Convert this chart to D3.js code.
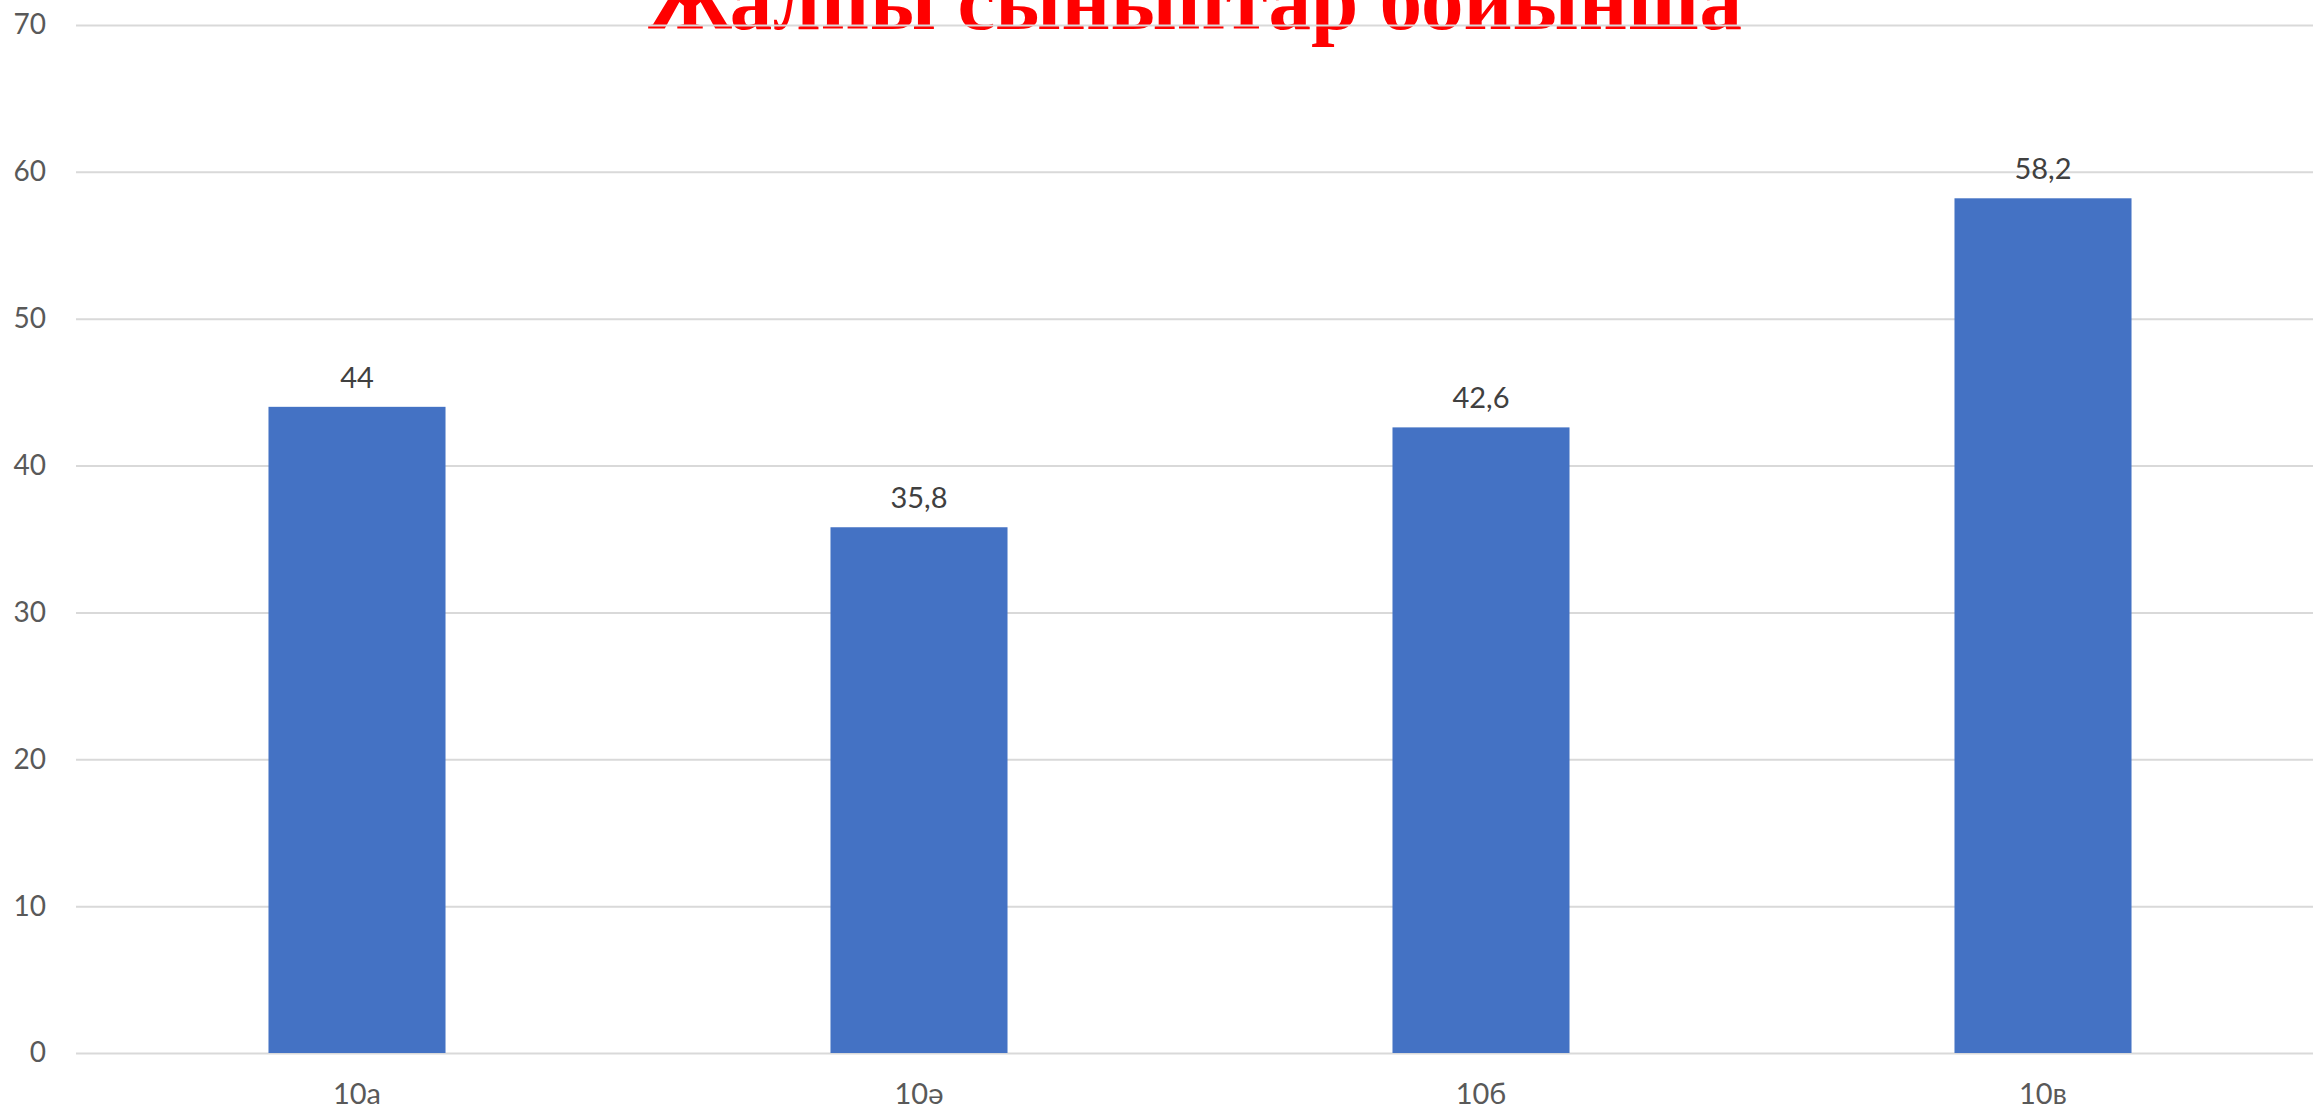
<!DOCTYPE html>
<html>
<head>
<meta charset="utf-8">
<script src="https://cdn.jsdelivr.net/npm/d3@7"></script>
<style>
  body { margin: 0; background: #fff; }
</style>
</head>
<body>
<script>
const categories = ["10а", "10ә", "10б", "10в"];
const values = [44, 35.8, 42.6, 58.2];
const yTicks = [0, 10, 20, 30, 40, 50, 60, 70];
const title = "Жалпы сыныптар бойынша";

const W = 2313, H = 1110;
const plot = { left: 76, right: 2324, top: 25, bottom: 1053 };

const svg = d3.select("body").append("svg")
    .attr("width", W)
    .attr("height", H);

const x = d3.scaleBand()
    .domain(categories)
    .range([plot.left, plot.right])
    .paddingInner(0.685)
    .paddingOuter(0.3425);

const y = d3.scaleLinear()
    .domain([0, 70])
    .range([plot.bottom, plot.top]);

// Title - runs off the top edge like the original, gridline drawn over it
svg.append("text")
    .attr("x", 1195)
    .attr("y", 29)
    .attr("text-anchor", "middle")
    .style("font-family", "'Liberation Serif', 'Times New Roman', serif")
    .style("font-weight", "bold")
    .style("font-size", "85px")
    .style("fill", "#ff0000")
    .text(title);

// Gridlines + y labels
const yAxis = svg.append("g")
    .attr("transform", "translate(" + plot.left + ",0)")
    .call(d3.axisLeft(y).tickValues(yTicks).tickSize(-(W - plot.left)).tickPadding(30));
yAxis.select(".domain").remove();
yAxis.selectAll(".tick line")
    .attr("stroke", "#d9d9d9")
    .attr("stroke-width", 2);
yAxis.selectAll(".tick text")
    .style("font-family", "Lato, 'Open Sans', sans-serif")
    .style("font-size", "28px")
    .style("fill", "#595959");

// Bars
svg.selectAll(".bar")
    .data(values)
  .enter().append("rect")
    .attr("class", "bar")
    .attr("x", (d, i) => x(categories[i]))
    .attr("y", d => y(d))
    .attr("width", x.bandwidth())
    .attr("height", d => y(0) - y(d))
    .attr("fill", "#4472c4");

// Value labels
svg.selectAll(".val")
    .data(values)
  .enter().append("text")
    .attr("class", "val")
    .attr("x", (d, i) => x(categories[i]) + x.bandwidth() / 2)
    .attr("y", d => y(d) - 19)
    .attr("text-anchor", "middle")
    .style("font-family", "Lato, 'Open Sans', sans-serif")
    .style("font-size", "29px")
    .style("fill", "#404040")
    .text(d => String(d).replace(".", ","));

// Category labels
const xAxis = svg.append("g")
    .attr("transform", "translate(0," + plot.bottom + ")")
    .call(d3.axisBottom(x).tickSize(0).tickPadding(30));
xAxis.select(".domain").remove();
xAxis.selectAll(".tick text")
    .style("font-family", "Lato, 'Open Sans', sans-serif")
    .style("font-size", "29px")
    .style("fill", "#595959");
</script>
</body>
</html>
